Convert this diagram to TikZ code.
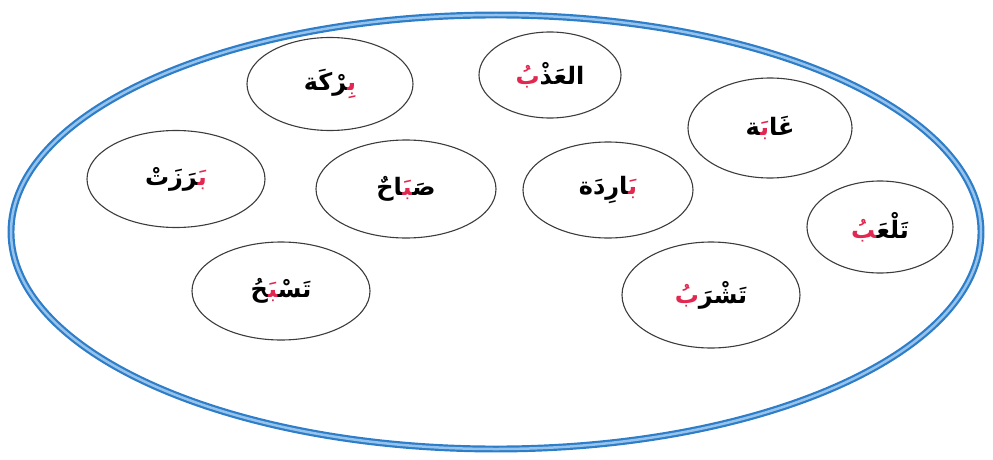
\documentclass[tikz,border=0pt]{standalone}
\usepackage{fontspec}
\usetikzlibrary{shapes.geometric}
\newfontfamily\arabicfont[Script=Arabic]{DejaVu Sans}
\definecolor{ringblue}{RGB}{45,125,200}
\definecolor{ringlight}{RGB}{150,195,235}
\definecolor{bubbleline}{RGB}{60,60,60}
\definecolor{redletter}{RGB}{225,40,80}
\newcommand{\zj}{\char"200D\relax}
\newcommand{\rl}[1]{\textcolor{redletter}{#1}}
\tikzset{
  bubble/.style={ellipse, draw=bubbleline, line width=1.1pt, inner sep=0pt,
    font=\arabicfont\bfseries\fontsize{24}{28}\selectfont, text=black},
}
\begin{document}
\begin{tikzpicture}[x=1pt,y=-1pt]
\useasboundingbox (0,0) rectangle (993,460);
\draw[draw=ringblue, double=ringlight, double distance=2.5pt, line width=2.2pt]
  (496,232) ellipse [x radius=485, y radius=217];
\node[bubble, minimum width=166pt, minimum height=93pt] (baraka) at (330,84)
  {\zj رْكَة\rl{بِ\zj}};
\node[bubble, minimum width=142pt, minimum height=86pt] (athb) at (550,75)
  {\rl{بُ}العَذْ};
\node[bubble, minimum width=164pt, minimum height=100pt] (ghaba) at (770,128)
  {\zj ة\rl{بَ\zj}غَا};
\node[bubble, minimum width=178pt, minimum height=97pt] (barazat) at (176,179)
  {\zj رَزَتْ\rl{بَ\zj}};
\node[bubble, minimum width=180pt, minimum height=98pt] (sabah) at (406,189)
  {\zj احٌ\rl{\zj بَ\zj}صَ\zj};
\node[bubble, minimum width=170pt, minimum height=96pt] (barida) at (608,190)
  {\zj ارِدَة\rl{بَ\zj}};
\node[bubble, minimum width=146pt, minimum height=92pt] (talab) at (880,227)
  {\rl{\zj بُ}تَلْعَ\zj};
\node[bubble, minimum width=178pt, minimum height=98pt] (tasbah) at (281,291)
  {\zj حُ\rl{\zj بَ\zj}تَسْ\zj};
\node[bubble, minimum width=178pt, minimum height=106pt] (tashrab) at (711,295)
  {\rl{بُ}تَشْرَ};
\end{tikzpicture}
\end{document}
